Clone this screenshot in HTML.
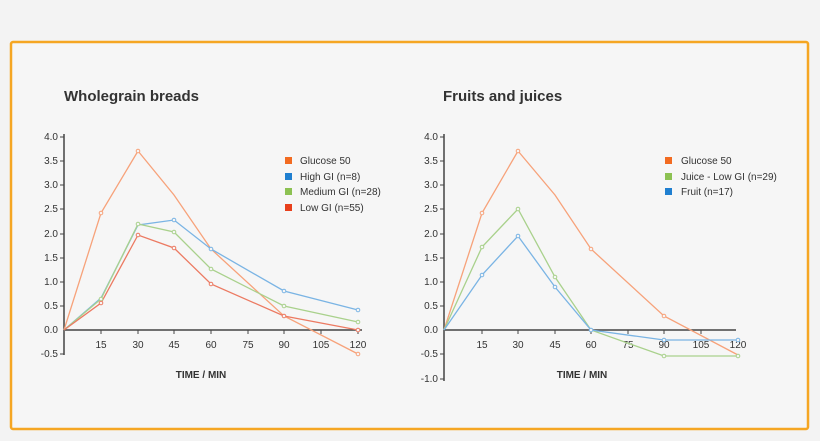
<!DOCTYPE html>
<html><head><meta charset="utf-8"><style>
body{margin:0;background:#f3f3f3;width:820px;height:441px;overflow:hidden}
svg{display:block}
text{font-family:"Liberation Sans",sans-serif;fill:#333}
</style></head><body>
<svg width="820" height="441" viewBox="0 0 820 441">
<rect x="0" y="0" width="820" height="441" fill="#f3f3f3"/>
<rect x="11" y="42" width="797" height="387" fill="#f6f6f6" stroke="#f5a623" stroke-width="2.5" rx="2"/>
<text x="64" y="101" font-size="15" font-weight="bold" fill="#2b2b2b">Wholegrain breads</text>
<text x="443" y="101" font-size="15" font-weight="bold" fill="#2b2b2b">Fruits and juices</text>
<g font-size="10" text-anchor="end">
<line x1="64" y1="134" x2="64" y2="355" stroke="#444" stroke-width="1.5"/>
<line x1="64" y1="330" x2="362" y2="330" stroke="#444" stroke-width="1.5"/>
<g stroke="#444" stroke-width="1"><line x1="60" y1="137" x2="64" y2="137"/><line x1="60" y1="161" x2="64" y2="161"/><line x1="60" y1="185" x2="64" y2="185"/><line x1="60" y1="209" x2="64" y2="209"/><line x1="60" y1="234" x2="64" y2="234"/><line x1="60" y1="258" x2="64" y2="258"/><line x1="60" y1="282" x2="64" y2="282"/><line x1="60" y1="306" x2="64" y2="306"/><line x1="60" y1="354" x2="64" y2="354"/>
<line x1="101" y1="330" x2="101" y2="334"/><line x1="138" y1="330" x2="138" y2="334"/><line x1="174" y1="330" x2="174" y2="334"/><line x1="211" y1="330" x2="211" y2="334"/><line x1="248" y1="330" x2="248" y2="334"/><line x1="284" y1="330" x2="284" y2="334"/><line x1="321" y1="330" x2="321" y2="334"/><line x1="358" y1="330" x2="358" y2="334"/></g>
<text x="58" y="140">4.0</text><text x="58" y="164">3.5</text><text x="58" y="188">3.0</text><text x="58" y="212">2.5</text><text x="58" y="237">2.0</text><text x="58" y="261">1.5</text><text x="58" y="285">1.0</text><text x="58" y="309">0.5</text><text x="58" y="333">0.0</text><text x="58" y="357">-0.5</text>
<g text-anchor="middle"><text x="101" y="348">15</text><text x="138" y="348">30</text><text x="174" y="348">45</text><text x="211" y="348">60</text><text x="248" y="348">75</text><text x="284" y="348">90</text><text x="321" y="348">105</text><text x="358" y="348">120</text>
<text x="201" y="378" font-weight="bold">TIME / MIN</text></g>
<g fill="none" stroke-width="1.3">
<polyline stroke="#f7a27a" points="64,330 101,213 138,151 174,195 211,249 284,316 358,354"/>
<polyline stroke="#7ab4e4" points="64,330 101,298 138,225 174,220 211,249 284,291 358,310"/>
<polyline stroke="#a9d18c" points="64,330 101,299 138,224 174,232 211,269 284,306 358,322"/>
<polyline stroke="#ec7a62" points="64,330 101,303 138,235 174,248 211,284 284,316 358,330"/>
</g>
<g stroke-width="1" fill="#f6f6f6">
<g stroke="#f7a27a"><circle cx="101" cy="213" r="1.8"/><circle cx="138" cy="151" r="1.8"/><circle cx="358" cy="354" r="1.8"/></g>
<g stroke="#7ab4e4"><circle cx="174" cy="220" r="1.8"/><circle cx="211" cy="249" r="1.8"/><circle cx="284" cy="291" r="1.8"/><circle cx="358" cy="310" r="1.8"/></g>
<g stroke="#a9d18c"><circle cx="101" cy="299" r="1.8"/><circle cx="138" cy="224" r="1.8"/><circle cx="174" cy="232" r="1.8"/><circle cx="211" cy="269" r="1.8"/><circle cx="284" cy="306" r="1.8"/><circle cx="358" cy="322" r="1.8"/></g>
<g stroke="#ec7a62"><circle cx="101" cy="303" r="1.8"/><circle cx="138" cy="235" r="1.8"/><circle cx="174" cy="248" r="1.8"/><circle cx="211" cy="284" r="1.8"/><circle cx="284" cy="316" r="1.8"/><circle cx="358" cy="330" r="1.8"/></g>
</g>
<g font-size="10" text-anchor="start"><rect x="285" y="157" width="7" height="7" fill="#f26b21"/><text x="300" y="164">Glucose 50</text>
<rect x="285" y="173" width="7" height="7" fill="#1f7fd0"/><text x="300" y="180">High GI (n=8)</text>
<rect x="285" y="188" width="7" height="7" fill="#8cc152"/><text x="300" y="195">Medium GI (n=28)</text>
<rect x="285" y="204" width="7" height="7" fill="#e8401c"/><text x="300" y="211">Low GI (n=55)</text></g>
</g>
<g font-size="10" text-anchor="end">
<line x1="444" y1="134" x2="444" y2="381" stroke="#444" stroke-width="1.5"/>
<line x1="444" y1="330" x2="736" y2="330" stroke="#444" stroke-width="1.5"/>
<g stroke="#444" stroke-width="1"><line x1="440" y1="137" x2="444" y2="137"/><line x1="440" y1="161" x2="444" y2="161"/><line x1="440" y1="185" x2="444" y2="185"/><line x1="440" y1="209" x2="444" y2="209"/><line x1="440" y1="234" x2="444" y2="234"/><line x1="440" y1="258" x2="444" y2="258"/><line x1="440" y1="282" x2="444" y2="282"/><line x1="440" y1="306" x2="444" y2="306"/><line x1="440" y1="354" x2="444" y2="354"/><line x1="440" y1="379" x2="444" y2="379"/>
<line x1="482" y1="330" x2="482" y2="334"/><line x1="518" y1="330" x2="518" y2="334"/><line x1="555" y1="330" x2="555" y2="334"/><line x1="591" y1="330" x2="591" y2="334"/><line x1="628" y1="330" x2="628" y2="334"/><line x1="664" y1="330" x2="664" y2="334"/><line x1="701" y1="330" x2="701" y2="334"/></g>
<text x="438" y="140">4.0</text><text x="438" y="164">3.5</text><text x="438" y="188">3.0</text><text x="438" y="212">2.5</text><text x="438" y="237">2.0</text><text x="438" y="261">1.5</text><text x="438" y="285">1.0</text><text x="438" y="309">0.5</text><text x="438" y="333">0.0</text><text x="438" y="357">-0.5</text><text x="438" y="382">-1.0</text>
<g text-anchor="middle"><text x="482" y="348">15</text><text x="518" y="348">30</text><text x="555" y="348">45</text><text x="591" y="348">60</text><text x="628" y="348">75</text><text x="664" y="348">90</text><text x="701" y="348">105</text><text x="738" y="348">120</text>
<text x="582" y="378" font-weight="bold">TIME / MIN</text></g>
<g fill="none" stroke-width="1.3">
<polyline stroke="#f7a27a" points="444,330 482,213 518,151 555,195 591,249 664,316 738,355"/>
<polyline stroke="#a9d18c" points="444,330 482,247 518,209 555,277 591,330 664,356 738,356"/>
<polyline stroke="#7ab4e4" points="444,330 482,275 518,236 555,287 591,330 664,340 738,340"/>
</g>
<g stroke-width="1" fill="#f6f6f6">
<g stroke="#f7a27a"><circle cx="482" cy="213" r="1.8"/><circle cx="518" cy="151" r="1.8"/><circle cx="591" cy="249" r="1.8"/><circle cx="664" cy="316" r="1.8"/></g>
<g stroke="#a9d18c"><circle cx="482" cy="247" r="1.8"/><circle cx="518" cy="209" r="1.8"/><circle cx="555" cy="277" r="1.8"/><circle cx="664" cy="356" r="1.8"/><circle cx="738" cy="356" r="1.8"/></g>
<g stroke="#7ab4e4"><circle cx="482" cy="275" r="1.8"/><circle cx="518" cy="236" r="1.8"/><circle cx="555" cy="287" r="1.8"/><circle cx="591" cy="330" r="1.8"/><circle cx="664" cy="340" r="1.8"/><circle cx="738" cy="340" r="1.8"/></g>
</g>
<g font-size="10" text-anchor="start"><rect x="665" y="157" width="7" height="7" fill="#f26b21"/><text x="681" y="164">Glucose 50</text>
<rect x="665" y="173" width="7" height="7" fill="#8cc152"/><text x="681" y="180">Juice - Low GI (n=29)</text>
<rect x="665" y="188" width="7" height="7" fill="#1f7fd0"/><text x="681" y="195">Fruit (n=17)</text></g>
</g>
</svg>
</body></html>
